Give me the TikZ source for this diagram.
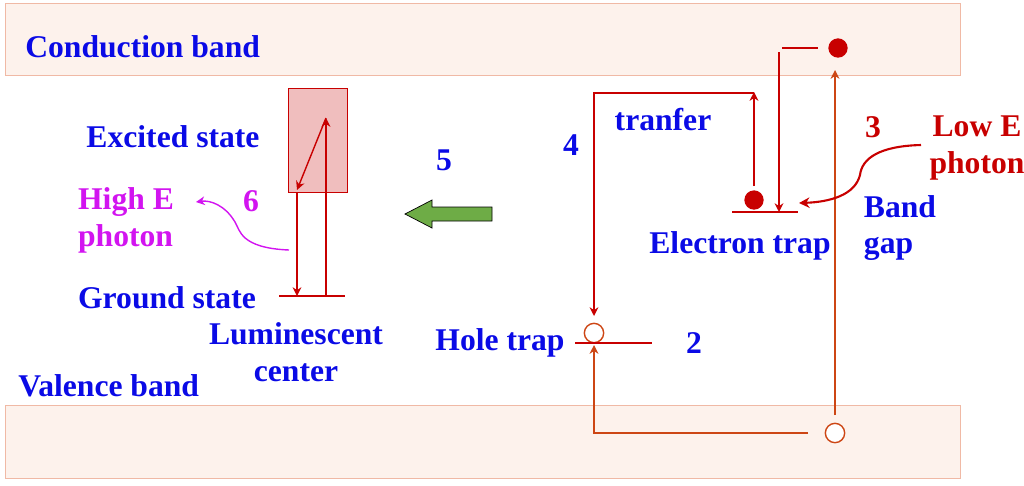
\documentclass[tikz,border=0pt]{standalone}
\usepackage{fontspec}
\setmainfont{Liberation Serif}
\usetikzlibrary{arrows.meta,positioning}
\definecolor{txtblue}{RGB}{10,10,230}
\definecolor{darkred}{RGB}{200,0,0}
\definecolor{orangered}{RGB}{205,70,20}
\definecolor{photonpink}{RGB}{210,20,240}
\definecolor{bandfill}{RGB}{253,242,236}
\definecolor{banddraw}{RGB}{240,185,165}
\definecolor{boxfill}{RGB}{240,190,190}
\definecolor{arrowgreen}{RGB}{110,172,70}
\tikzset{
	band/.style={
		rectangle, 
		draw=banddraw, 
		fill=bandfill
	},
	lbl/.style={
		text=txtblue,
		font=\bfseries\fontsize{18}{19}\selectfont,
		align=center,
		inner sep=0pt
	},
	level/.style={darkred, thick},
	arrow/.style={darkred, thick, -{Stealth[length=5pt,width=5pt]}},
	arrow2/.style={orangered, thick, -{Stealth[length=5pt,width=5pt]}},
	full/.style={circle, fill=darkred, minimum size=11pt, inner sep=0pt},
	hole/.style={circle, draw=orangered, thick, fill=white, minimum size=11pt, inner sep=0pt},
}
\begin{document}
\begin{tikzpicture}[x=0.02cm, y=-0.02cm]
	\useasboundingbox (0,0) rectangle (1024,485);
	% bands
	\draw[band] (5,3) rectangle (960,75);
	\draw[band] (5,405) rectangle (960,478);
	\node (cband) [lbl, anchor=west] at (25,47) {Conduction band};
	\node (vband) [lbl, anchor=west] at (18,386) {Valence band};
	
	% luminescent center
	\draw[darkred, fill=boxfill] (288,88) rectangle (347,192);
	\coordinate (gl) at (279,296);
	\coordinate (gr) at (345,296);
	\draw[level] (gl) -- (gr);
	\coordinate (exc) at (326,118);
	\draw[arrow] (297,192) -- (297,296);
	\draw[arrow] (326,296) -- (exc);
	\draw[arrow] (exc) -- (297,190);
	\node (excited) [lbl] at (173,137) {Excited state};
	\node (ground) [lbl] at (167,298) {Ground state};
	\node (lumin) [lbl] at (296,352) {Luminescent\\[2pt]center};
	\node (high) [lbl, text=photonpink, align=left] at (126,220) {High E\\[2pt]photon};
	\node (six) [lbl, text=photonpink] at (251,201) {6};
	\draw[photonpink, thick, -{Stealth[length=5pt,width=5pt]}]
		(289,250) .. controls (240,248) and (240,230) .. (235,222)
		.. controls (225,205) and (210,200) .. (196,202);
	
	% transfer arrow
	\node (five) [lbl] at (444,160) {5};
	\draw[black, fill=arrowgreen]
		(492,207) -- (432,207) -- (432,200) -- (405,214) -- (432,228) -- (432,221) -- (492,221) -- cycle;
	
	% traps
	\node (et) [full] at (754,200) {};
	\draw[level] (732,212) -- (798,212);
	\node (etrap) [lbl] at (740,246) {Electron trap};
	\node (ht) [hole] at (594,333) {};
	\draw[level] (575,343) -- (652,343);
	\node (htrap) [lbl] at (500,343) {Hole trap};
	\node (two) [lbl] at (694,343) {2};
	
	\node (ce) [full] at (838,48) {};
	\node (vh) [hole] at (835,433) {};
	\draw[level] (782,48) -- (818,48);
	\draw[arrow] (779,52) -- (779,212);
	\draw[arrow2] (835,415) -- (835,70);
	\draw[arrow2] (808,433) -| (594,345);
	\draw[arrow] (754,186) -- (754,92);
	\draw[arrow] (754,93) -- (594,93) -- (594,316);
	\node (four) [lbl] at (571,145) {4};
	\node (tranfer) [lbl] at (663,120) {tranfer};
	
	% low energy photon
	\node (three) [lbl, text=darkred] at (873,127) {3};
	\node (low) [lbl, text=darkred] at (977,148) {Low E\\[2pt]photon};
	\draw[darkred, very thick, -{Stealth[length=6pt,width=6pt]}]
		(921,145) .. controls (880,146) and (862,158) .. (860,175)
		.. controls (855,195) and (830,202) .. (799,203);
	\node (gap) [lbl, align=left] at (900,228) {Band\\[2pt]gap};
\end{tikzpicture}
\end{document}
